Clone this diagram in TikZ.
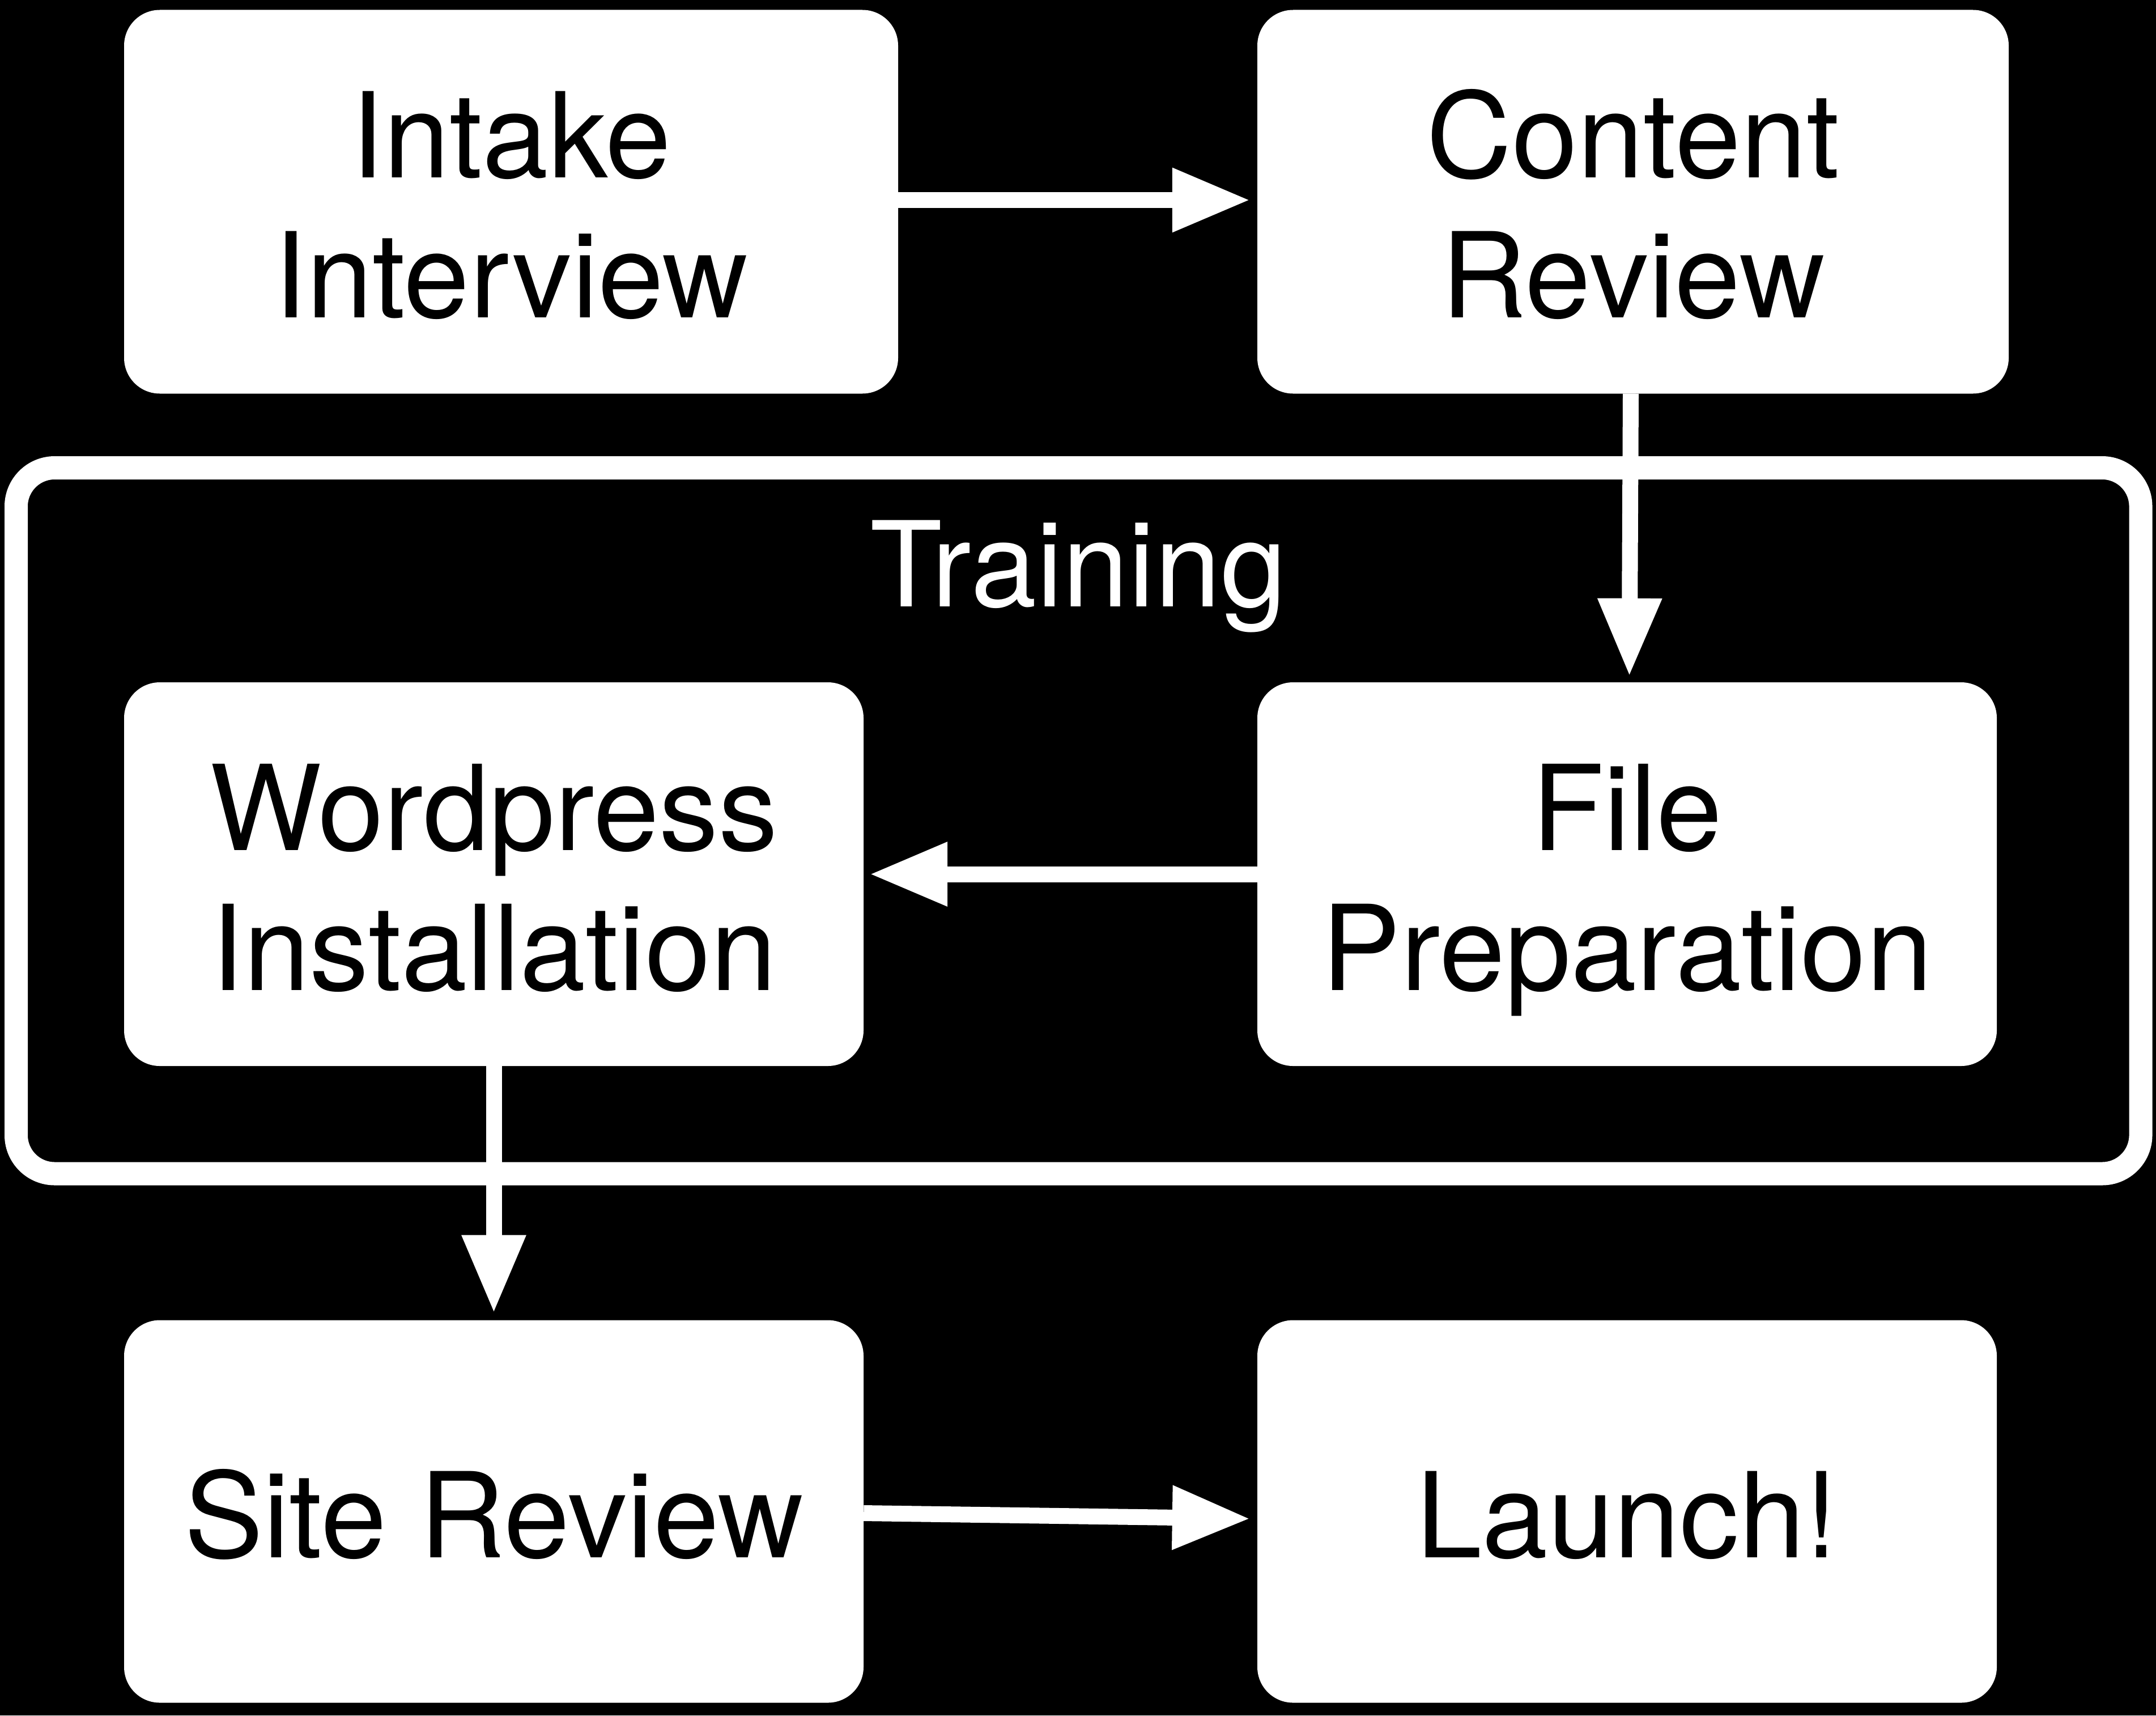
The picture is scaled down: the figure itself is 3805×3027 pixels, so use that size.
\documentclass[tikz,border=0pt]{standalone}
\usepackage{fontspec}
\setmainfont{TeX Gyre Heros}
\usetikzlibrary{arrows.meta,calc}
\newcommand\topstrut{\rule{0pt}{212pt}}
\newcommand\botstrut{\rule[-50pt]{0pt}{50pt}}
\begin{document}
\begin{tikzpicture}[x=1pt,y=-1pt,
  stepbox/.style={fill=white, draw=none, rounded corners=63pt, inner sep=0pt,
    align=center, text=black, font=\fontsize{209}{247}\selectfont},
  groupframe/.style={draw=white, line width=41pt, rounded corners=68pt, inner sep=0pt, fill=none},
  grouplabel/.style={text=white, inner sep=0pt, font=\fontsize{209}{247}\selectfont},
  flow/.style={draw=white, line width=28pt, -{Triangle[width=106pt,length=138pt]}}]
\fill[black] (0,0) rectangle (3805,3027);
\useasboundingbox (0,0) rectangle (3805,3027);
% group frame
\node[groupframe, minimum width=3749.5pt, minimum height=1245.5pt] (training) at (1903.25,1448.25) {};
\node[grouplabel, anchor=base] (traininglabel) at (1903,1070) {Training};
% boxes
\node[stepbox, minimum width=1366pt, minimum height=677pt] (intake) at (902,356) {\topstrut Intake\\Interview\botstrut};
\node[stepbox, minimum width=1326pt, minimum height=677pt] (content) at (2882,356) {\topstrut Content\\Review\botstrut};
\node[stepbox, minimum width=1305pt, minimum height=677pt] (wordpress) at (871.5,1542.5) {\topstrut Wordpress\\Installation\botstrut};
\node[stepbox, minimum width=1305pt, minimum height=677pt] (fileprep) at (2871.5,1542.5) {\topstrut File\\Preparation\botstrut};
\node[stepbox, minimum width=1305pt, minimum height=675pt] (site) at (871.5,2667) {\topstrut Site Review\botstrut};
\node[stepbox, minimum width=1305pt, minimum height=675pt] (launch) at (2871.5,2667) {\topstrut Launch!\botstrut};
% connectors
\draw[flow, shorten >=12pt] ([yshift=3pt]intake.east) -- ([yshift=3pt]content.west);
\draw[flow, shorten >=10pt] ([xshift=-4pt]content.south) -- ([xshift=4pt]fileprep.north);
\draw[flow, shorten >=10pt] (fileprep.west) -- (wordpress.east);
\draw[flow, shorten >=12pt] (wordpress.south) -- (site.north);
\draw[flow, shorten >=12pt] ([yshift=-3pt]site.east) -- ([yshift=-13pt]launch.west);
\end{tikzpicture}
\end{document}
